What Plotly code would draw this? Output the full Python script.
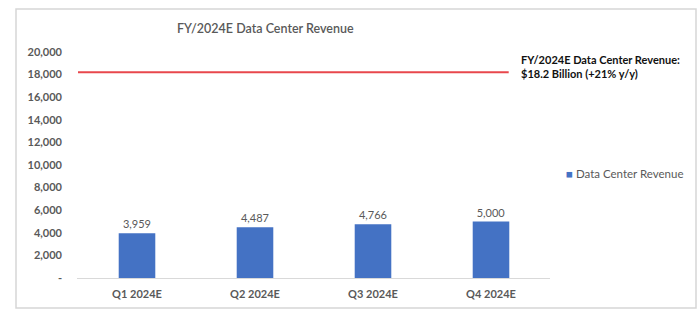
import plotly.graph_objects as go

# Quarterly data center revenue estimates ($ millions)
quarters = ["Q1 2024E", "Q2 2024E", "Q3 2024E", "Q4 2024E"]
revenue = [3959, 4487, 4766, 5000]
series_name = "Data Center Revenue"

# Y axis ticks (zero shown as a dash, accounting style)
tick_vals = list(range(0, 20001, 2000))
tick_text = ["-"] + [f"{v:,}" for v in tick_vals[1:]]

full_year = sum(revenue)
fy_label = "FY/2024E Data Center Revenue:<br>$18.2 Billion (+21% y/y)"

FONT = "Lato, 'Open Sans', sans-serif"
GREY = "#595959"
BAR = "#4472C4"

# Plot-area pixel geometry used to convert to paper coordinates
L, R, T, B = 77, 550, 52, 278
W, H = R - L, B - T


def px(x):
    return (x - L) / W


def py(y):
    return (B - y) / H


fig = go.Figure()
fig.add_trace(go.Bar(
    x=quarters,
    y=revenue,
    name=series_name,
    marker=dict(color=BAR, line=dict(width=0)),
    text=[f"{v:,}" for v in revenue],
    textposition="outside",
    textfont=dict(family=FONT, size=11, color=GREY),
    cliponaxis=False,
    showlegend=False,
))

# Full-year total reference line
fig.add_shape(type="line", xref="x", yref="y",
              x0=-0.5, x1=3.15, y0=full_year, y1=full_year,
              line=dict(color="#E8474C", width=2))

# Outer chart border
fig.add_shape(type="rect", xref="paper", yref="paper",
              x0=px(16), x1=px(696), y0=py(308), y1=py(9),
              line=dict(color="#D6D6D6", width=1.5), layer="below")

fig.add_annotation(text="FY/2024E Data Center Revenue", xref="paper", yref="paper",
                   x=px(265), y=py(28), xanchor="center", yanchor="middle",
                   showarrow=False,
                   font=dict(family=FONT, size=12.5, color=GREY, weight=600))

fig.add_annotation(text=f"<b>{fy_label}</b>", xref="paper", yref="paper",
                   x=px(519), y=py(66), xanchor="left", yanchor="middle",
                   align="left", showarrow=False,
                   font=dict(family=FONT, size=11, color="#111111"))

# Series key
fig.add_annotation(text=f"<span style='color:{BAR}'>■</span> {series_name}",
                   xref="paper", yref="paper",
                   x=px(564), y=py(173), xanchor="left", yanchor="middle",
                   showarrow=False,
                   font=dict(family=FONT, size=11.5, color=GREY))

fig.update_layout(
    width=700, height=322,
    margin=dict(l=L, r=700 - R, t=T, b=322 - B, autoexpand=False),
    paper_bgcolor="white", plot_bgcolor="white",
    bargap=0.69,
    showlegend=False,
    font=dict(family=FONT, color=GREY),
    xaxis=dict(showline=True, linecolor="#D9D9D9", linewidth=1, ticks="",
               ticklabelstandoff=6,
               tickfont=dict(family=FONT, size=11, color=GREY, weight="bold"),
               showgrid=False),
    yaxis=dict(range=[0, 20000], tickvals=tick_vals, ticktext=tick_text,
               showgrid=False, zeroline=False, showline=False, ticks="",
               ticklabelstandoff=14,
               tickfont=dict(family=FONT, size=11, color=GREY, weight="bold")),
)

fig.write_html("out.html")
